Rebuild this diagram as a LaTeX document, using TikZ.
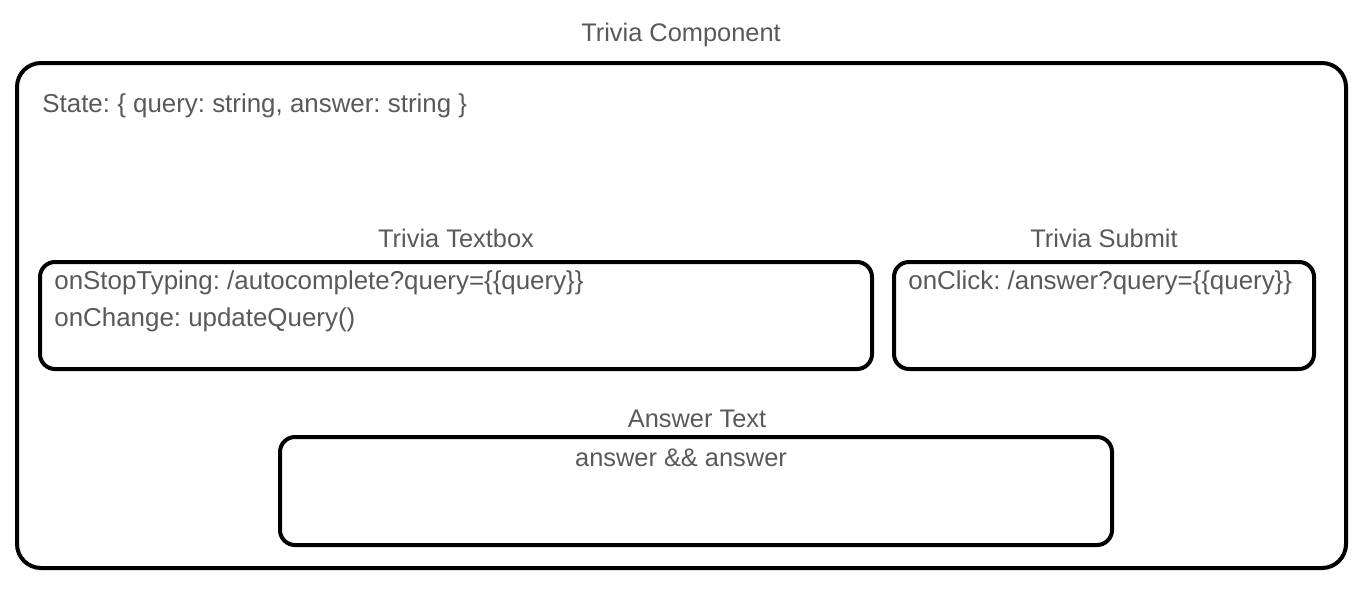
\documentclass[tikz,border=0pt]{standalone}
\usepackage{fontspec}
\setmainfont{Liberation Sans}
\usetikzlibrary{positioning}
\definecolor{txtgray}{HTML}{595959}
\frenchspacing
\tikzset{
  % --- Boxes ------------------------------------------------
  compbox/.style={draw, line width=2pt, rounded corners=12pt, fill=none,
    inner sep=0pt},
  subbox/.style={draw, line width=2pt, rounded corners=7.5pt, fill=none,
    inner sep=0pt, minimum height=53.5pt},
  % --- Texts ------------------------------------------------
  ttl/.style={font=\fontsize{12.7}{15}\selectfont, text=txtgray, inner sep=0pt},
  code/.style={ttl, font=\fontsize{12.95}{15}\selectfont, anchor=west}
}
\begin{document}
\begin{tikzpicture}[x=0.5pt, y=-0.5pt]
  \useasboundingbox (0,0) rectangle (1364,594);

  % --- Component ------------------------------------------------
  \node[compbox, minimum width=664.5pt, minimum height=252.5pt] (TC) at (681.5,315.5) {};
  \node[ttl] (TCl) at (681,35) {Trivia Component};
  \node[code] (ST) at (42,106) {State: \{ query: string, answer: string \}};

  % --- Textbox / Submit -----------------------------------------
  \node[subbox, minimum width=416pt] (TB) at (456,315.5) {};
  \node[ttl] (TBl) at (456,238) {Trivia Textbox};
  \node[code] (TB1) at (54,283) {onStopTyping: /autocomplete?query=\{\{query\}\}};
  \node[code] (TB2) at (54,320) {onChange: updateQuery()};

  \node[subbox, minimum width=210pt] (SB) at (1104,315.5) {};
  \node[ttl] (SBl) at (1104,238) {Trivia Submit};
  \node[code] (SB1) at (908,283) {onClick: /answer?query=\{\{query\}\}};

  % --- Answer ---------------------------------------------------
  \node[subbox, minimum width=416pt, minimum height=54pt] (AT) at (696,491) {};
  \node[ttl] (ATl) at (697,419) {Answer Text};
  \node[ttl] (AT1) at (681,458) {answer \&\& answer};

\end{tikzpicture}
\end{document}
